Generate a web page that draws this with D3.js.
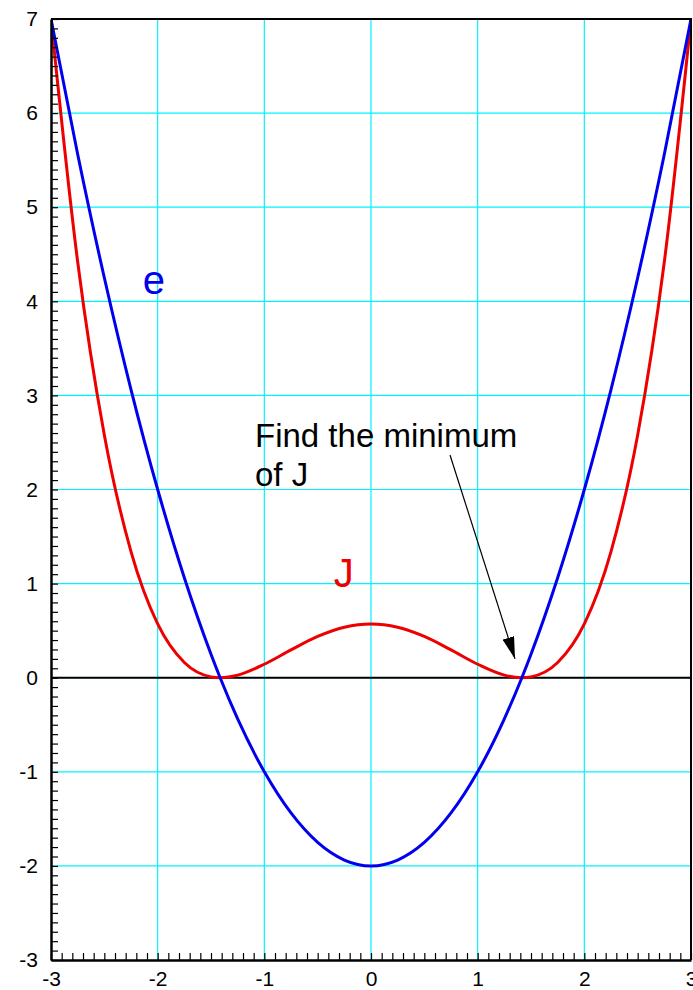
<!DOCTYPE html>
<html>
<head>
<meta charset="utf-8">
<script src="https://cdn.jsdelivr.net/npm/d3@7"></script>
<style>
  html, body { margin: 0; padding: 0; background: #fff; }
  svg { display: block; font-family: "Liberation Sans", Arial, Helvetica, sans-serif; }
</style>
</head>
<body>
<svg id="chart" width="693" height="990"></svg>
<script>
// Sample positions along x
const xs = [-3, -2.75, -2.5, -2.25, -2, -1.75, -1.5, -1.4142, -1.25, -1, -0.75, -0.5, -0.25, 0,
            0.25, 0.5, 0.75, 1, 1.25, 1.4142, 1.5, 1.75, 2, 2.25, 2.5, 2.75, 3];
// Error e at each sample
const eValues = [7, 5.5625, 4.25, 3.0625, 2, 1.0625, 0.25, 0, -0.4375, -1, -1.4375, -1.75, -1.9375, -2,
                 -1.9375, -1.75, -1.4375, -1, -0.4375, 0, 0.25, 1.0625, 2, 3.0625, 4.25, 5.5625, 7];
// Cost J at each sample
const jValues = [7, 4.42, 2.58, 1.34, 0.571, 0.161, 0.009, 0, 0.027, 0.143, 0.295, 0.438, 0.536, 0.571,
                 0.536, 0.438, 0.295, 0.143, 0.027, 0, 0.009, 0.161, 0.571, 1.34, 2.58, 4.42, 7];
const xTickLabels = [-3, -2, -1, 0, 1, 2, 3];
const yTickLabels = [-3, -2, -1, 0, 1, 2, 3, 4, 5, 6, 7];

const svg = d3.select("#chart");
const plotLeft = 51, plotRight = 691, plotTop = 19, plotBottom = 960;

const x = d3.scaleLinear().domain([-3, 3]).range([plotLeft, plotRight]);
const y = d3.scaleLinear().domain([-3, 7]).range([plotBottom, plotTop]);

// Cyan grid at whole units
const grid = svg.append("g").attr("stroke", "#00f4ff").attr("stroke-width", 1.2);
grid.selectAll("line.v").data(xTickLabels.filter(d => d > -3 && d < 3)).join("line")
  .attr("class", "v")
  .attr("x1", d => x(d)).attr("x2", d => x(d)).attr("y1", plotTop).attr("y2", plotBottom);
grid.selectAll("line.h").data(yTickLabels.filter(d => d > -3 && d < 7)).join("line")
  .attr("class", "h")
  .attr("x1", plotLeft).attr("x2", plotRight).attr("y1", d => y(d)).attr("y2", d => y(d));

// Zero line
svg.append("line")
  .attr("x1", plotLeft).attr("x2", plotRight).attr("y1", y(0)).attr("y2", y(0))
  .attr("stroke", "#000").attr("stroke-width", 2);

// Curves
svg.append("clipPath").attr("id", "plot")
  .append("rect").attr("x", plotLeft).attr("y", plotTop - 2)
  .attr("width", plotRight - plotLeft).attr("height", plotBottom - plotTop + 2);

const curveLine = d3.line().x((d, i) => x(xs[i])).y(d => y(d)).curve(d3.curveMonotoneX);
const curves = svg.append("g").attr("clip-path", "url(#plot)").attr("fill", "none").attr("stroke-width", 3);
curves.append("path").attr("d", curveLine(jValues)).attr("stroke", "#ee0000");
curves.append("path").attr("d", curveLine(eValues)).attr("stroke", "#0000ee");

// Frame: top and right edges
svg.append("path")
  .attr("d", `M${plotLeft},${plotTop}H${plotRight}V${plotBottom}`)
  .attr("fill", "none").attr("stroke", "#000").attr("stroke-width", 2);

// Minor ticks (inward) and labels
const fineY = d3.range(0, 101).map(i => -3 + i * 0.1);
const fineX = d3.range(0, 61).map(i => -3 + i * 0.1);

const yMinor = svg.append("g").attr("transform", `translate(${plotLeft},0)`)
  .call(d3.axisLeft(y).tickValues(fineY).tickSize(-7).tickSizeOuter(0).tickFormat(""));
const xMinor = svg.append("g").attr("transform", `translate(0,${plotBottom})`)
  .call(d3.axisBottom(x).tickValues(fineX).tickSize(-7).tickSizeOuter(0).tickFormat(""));
[yMinor, xMinor].forEach(g => {
  g.select(".domain").attr("stroke", "#000").attr("stroke-width", 2.5);
  g.selectAll(".tick line").attr("stroke", "#000").attr("stroke-width", 1.2);
});

const plainNum = d => String(d);
const yLab = svg.append("g").attr("transform", `translate(${plotLeft},0)`)
  .call(d3.axisLeft(y).tickValues(yTickLabels).tickSize(0).tickPadding(13).tickFormat(plainNum));
const xLab = svg.append("g").attr("transform", `translate(0,${plotBottom})`)
  .call(d3.axisBottom(x).tickValues(xTickLabels).tickSize(0).tickPadding(11).tickFormat(plainNum));
[yLab, xLab].forEach(g => {
  g.select(".domain").remove();
  g.selectAll("text").attr("font-size", 21).attr("fill", "#000")
    .attr("font-family", "Liberation Sans, Arial, sans-serif");
});
xLab.selectAll("text").attr("dy", "0.71em");

// Curve labels
svg.append("text").attr("x", x(-2.14)).attr("y", y(4.0) - 7)
  .attr("font-size", 40).attr("fill", "#0000ee").text("e");
svg.append("text").attr("x", x(-0.35)).attr("y", y(0.9) - 6)
  .attr("font-size", 40).attr("fill", "#ee0000").text("J");

// Annotation with arrow to the minimum
const note = svg.append("text").attr("font-size", 33).attr("fill", "#000");
note.append("tspan").attr("x", 255).attr("y", 447).text("Find the minimum");
note.append("tspan").attr("x", 255).attr("y", 486).text("of J");

svg.append("defs").append("marker")
  .attr("id", "head").attr("viewBox", "0 0 22 12").attr("refX", 22).attr("refY", 6)
  .attr("markerWidth", 22).attr("markerHeight", 12).attr("markerUnits", "userSpaceOnUse")
  .attr("orient", "auto")
  .append("path").attr("d", "M0,0L22,6L0,12Z").attr("fill", "#000");

svg.append("line")
  .attr("x1", 450).attr("y1", 455)
  .attr("x2", x(1.35)).attr("y2", y(0.2))
  .attr("stroke", "#000").attr("stroke-width", 1.2)
  .attr("marker-end", "url(#head)");
</script>
</body>
</html>
